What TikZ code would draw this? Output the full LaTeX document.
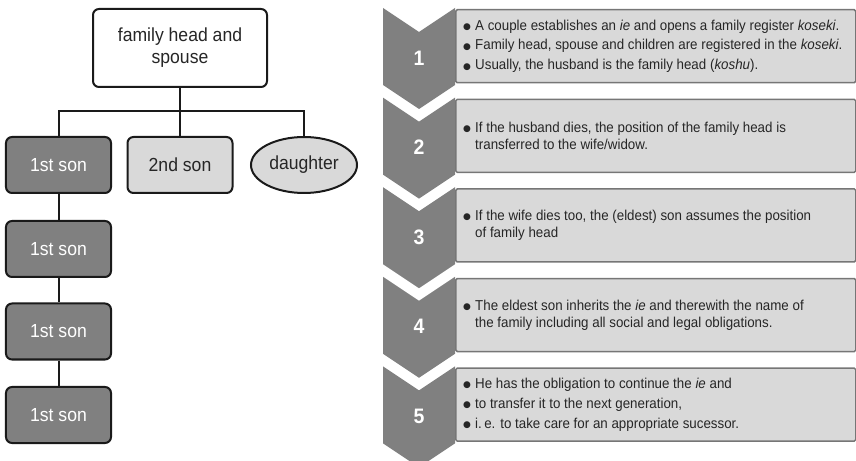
\documentclass[tikz,border=0pt]{standalone}
\usepackage{fontspec}
\setmainfont{Liberation Sans}[FakeStretch=0.93]
\newfontfamily\dejavu{DejaVu Sans}
\usetikzlibrary{shapes.geometric}
\definecolor{dk}{RGB}{128,128,128}
\definecolor{lt}{RGB}{217,217,217}
\definecolor{ln}{RGB}{26,26,26}
\definecolor{tx}{RGB}{38,38,38}
\definecolor{bd}{RGB}{118,118,118}
\newcommand\bl{\makebox[12bp][l]{\raisebox{0.8bp}{\fontsize{9}{9}\dejavu ●}}}
\newcommand\ind{\hspace*{12bp}}
\begin{document}
\begin{tikzpicture}[x=1bp,y=-1bp,
 treebox/.style={draw=ln, line width=2bp, rounded corners=6bp, minimum width=105bp, minimum height=56bp, inner sep=0pt, font=\fontsize{19}{22}\selectfont},
 darkbox/.style={treebox, fill=dk, text=white},
 lightbox/.style={treebox, fill=lt, text=tx},
 conn/.style={draw=ln, line width=2bp},
 num/.style={text=white, font=\fontsize{21}{21}\selectfont\bfseries},
 tbox/.style={draw=bd, line width=1.5bp, fill=lt, rounded corners=1.5bp, minimum width=400bp, minimum height=73bp, anchor=north west, inner sep=0pt},
 btxt/.style={anchor=west, inner sep=0pt, align=left, text=tx, font=\fontsize{14.4}{17}\selectfont},
]
\useasboundingbox (0,0) rectangle (856,461);
% tree
\node[treebox, fill=white, text=tx, minimum width=174bp, minimum height=78bp, align=center] (top) at (180,48) {family head and\\spouse};
\node[darkbox] (s1) at (58.5,165) {1st son};
\node[lightbox] (s2) at (180,165) {2nd son};
\node[lightbox, ellipse, rounded corners=0pt, minimum width=106bp, minimum height=56bp] (dau) at (304,165) {daughter};
\node[darkbox] (s1b) at (58.5,249) {1st son};
\node[darkbox] (s1c) at (58.5,331.5) {1st son};
\node[darkbox] (s1d) at (58.5,415) {1st son};
\coordinate (bus) at (180,111);
\draw[conn] (top.south) -- (s2.north);
\draw[conn] (s1.north) |- (bus) -| (dau.north);
\draw[conn] (s1.south) -- (s1b.north);
\draw[conn] (s1b.south) -- (s1c.north);
\draw[conn] (s1c.south) -- (s1d.north);
% chevrons and boxes
\foreach \n/\t in {1/8,2/97.6,3/187.2,4/276.8,5/366.4}{
  \fill[dk] (383,\t) -- (419,\t+24) -- (455,\t) -- (455,\t+77) -- (419,\t+101) -- (383,\t+77) -- cycle;
  \node[tbox] (b\n) at (455,\t+1) {};
  \node[num] (n\n) at (419,\t+50) {\n};
}
\node[btxt] (t1) at ([xshift=8bp]b1.west) {\bl A couple establishes an \textit{ie} and opens a family register \textit{koseki}.\\[3bp]
\bl Family head, spouse and children are registered in the \textit{koseki}.\\[3bp]
\bl Usually, the husband is the family head (\textit{koshu}).};
\node[btxt] (t2) at ([xshift=8bp]b2.west) {\bl If the husband dies, the position of the family head is\\
\ind transferred to the wife/widow.};
\node[btxt] (t3) at ([xshift=8bp]b3.west) {\bl If the wife dies too, the (eldest) son assumes the position\\
\ind of family head};
\node[btxt] (t4) at ([xshift=8bp]b4.west) {\bl The eldest son inherits the \textit{ie} and therewith the name of\\
\ind the family including all social and legal obligations.};
\node[btxt] (t5) at ([xshift=8bp]b5.west) {\bl He has the obligation to continue the \textit{ie} and\\[3bp]
\bl to transfer it to the next generation,\\[3bp]
\bl i.\,e. to take care for an appropriate sucessor.};
\end{tikzpicture}
\end{document}
